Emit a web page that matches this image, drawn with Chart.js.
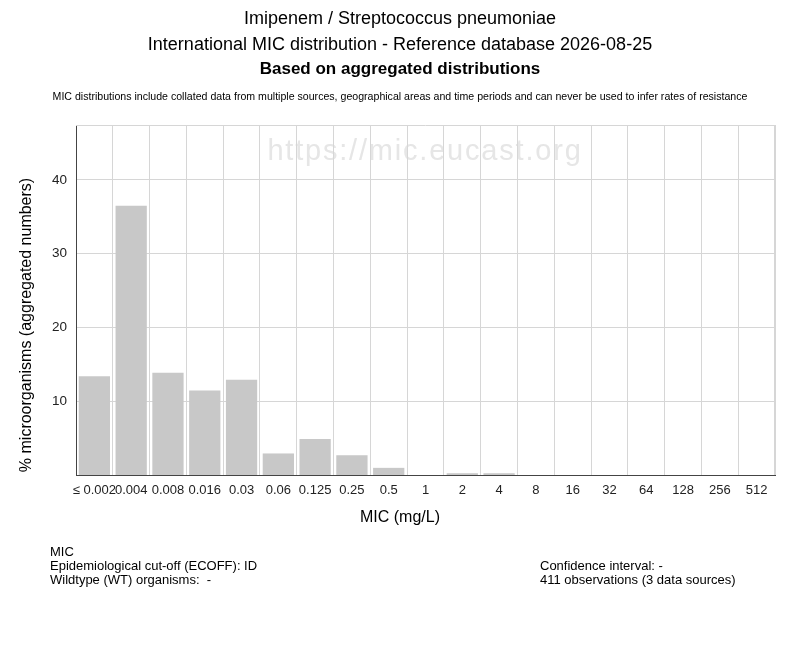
<!DOCTYPE html>
<html><head><meta charset="utf-8">
<script src="https://cdn.jsdelivr.net/npm/chart.js@4.4.1/dist/chart.umd.min.js"></script>
<style>html,body{margin:0;padding:0;background:#fff}#wrap{width:800px;height:650px}</style>
</head><body><div id="wrap"><canvas id="c" width="800" height="650"></canvas></div>
<script>
const categories = ["≤ 0.002","0.004","0.008","0.016","0.03","0.06","0.125","0.25","0.5","1","2","4","8","16","32","64","128","256","512"];
const percentValues = [13.38,36.50,13.87,11.44,12.90,2.92,4.87,2.68,0.97,0,0.24,0.24,0,0,0,0,0,0,0];
const yTicks = [10,20,30,40];
const titleLines = ["Imipenem / Streptococcus pneumoniae","International MIC distribution - Reference database 2026-08-25"];
const boldTitle = "Based on aggregated distributions";
const disclaimer = "MIC distributions include collated data from multiple sources, geographical areas and time periods and can never be used to infer rates of resistance";
const footLeft = ["MIC","Epidemiological cut-off (ECOFF): ID","Wildtype (WT) organisms:  -"];
const footRight = ["Confidence interval: -","411 observations (3 data sources)"];
const FONT = "'Liberation Sans', Arial, sans-serif";

const textPlugin = {
  id:'texts',
  beforeDraw(chart){
    const ctx = chart.ctx;
    ctx.save();
    ctx.fillStyle = '#e6e6e6';
    ctx.font = "29px "+FONT;
    ctx.letterSpacing = '1.8px';
    ctx.textAlign='center'; ctx.textBaseline='alphabetic';
    ctx.fillText("https://mic.eucast.org", 425, 160);
    ctx.restore();
  },
  afterDraw(chart){
    const ctx = chart.ctx;
    ctx.save();
    ctx.fillStyle = '#000';
    ctx.textAlign='center'; ctx.textBaseline='middle';
    ctx.font = "18px "+FONT;
    ctx.fillText(titleLines[0], 400, 19);
    ctx.fillText(titleLines[1], 400, 45);
    ctx.font = "bold 17px "+FONT;
    ctx.fillText(boldTitle, 400, 69);
    ctx.font = "10.6px "+FONT;
    ctx.fillText(disclaimer, 400, 97);
    ctx.font = "16px "+FONT;
    ctx.fillText("MIC (mg/L)", 400, 518);
    ctx.save();
    ctx.translate(27, 325);
    ctx.rotate(-Math.PI/2);
    ctx.fillText("% microorganisms (aggregated numbers)", 0, 0);
    ctx.restore();
    ctx.textAlign='left';
    ctx.font = "13px "+FONT;
    footLeft.forEach((t,i)=>ctx.fillText(t, 50, 552+i*14));
    footRight.forEach((t,i)=>ctx.fillText(t, 540, 566+i*14));
    ctx.restore();
  }
};

new Chart(document.getElementById('c'), {
  type:'bar',
  data:{labels:categories, datasets:[{data:percentValues, backgroundColor:'#c8c8c8', borderWidth:0, barPercentage:0.85, categoryPercentage:1}]},
  options:{
    responsive:false, animation:false, devicePixelRatio:1,
    layout:{padding:{top:125,right:25,bottom:145,left:0}},
    plugins:{legend:{display:false}, tooltip:{enabled:false}, title:{display:false}},
    scales:{
      x:{
        grid:{color:'#d6d6d6', offset:true, drawTicks:false},
        border:{color:'#444', width:1},
        ticks:{color:'#222', font:{size:13, family:FONT}, padding:8, maxRotation:0, autoSkip:false},
        afterFit(s){ s.height = 30; }
      },
      y:{
        min:0, max:47.45,
        afterBuildTicks(s){ s.ticks = yTicks.map(v=>({value:v})); },
        grid:{color:'#d6d6d6', drawTicks:false},
        border:{color:'#444', width:1},
        ticks:{color:'#222', font:{size:13.5, family:FONT}, padding:9},
        afterFit(s){ s.width = 76; }
      }
    }
  },
  plugins:[textPlugin, {
    id:'frame',
    beforeDatasetsDraw(chart){
      const ctx=chart.ctx,a=chart.chartArea;
      ctx.save(); ctx.strokeStyle='#d6d6d6'; ctx.lineWidth=1;
      ctx.beginPath(); ctx.moveTo(a.left,a.top+0.5); ctx.lineTo(a.right,a.top+0.5);
      ctx.moveTo(a.right-0.5,a.top); ctx.lineTo(a.right-0.5,a.bottom); ctx.stroke(); ctx.restore();
    }
  }]
});
</script></body></html>
